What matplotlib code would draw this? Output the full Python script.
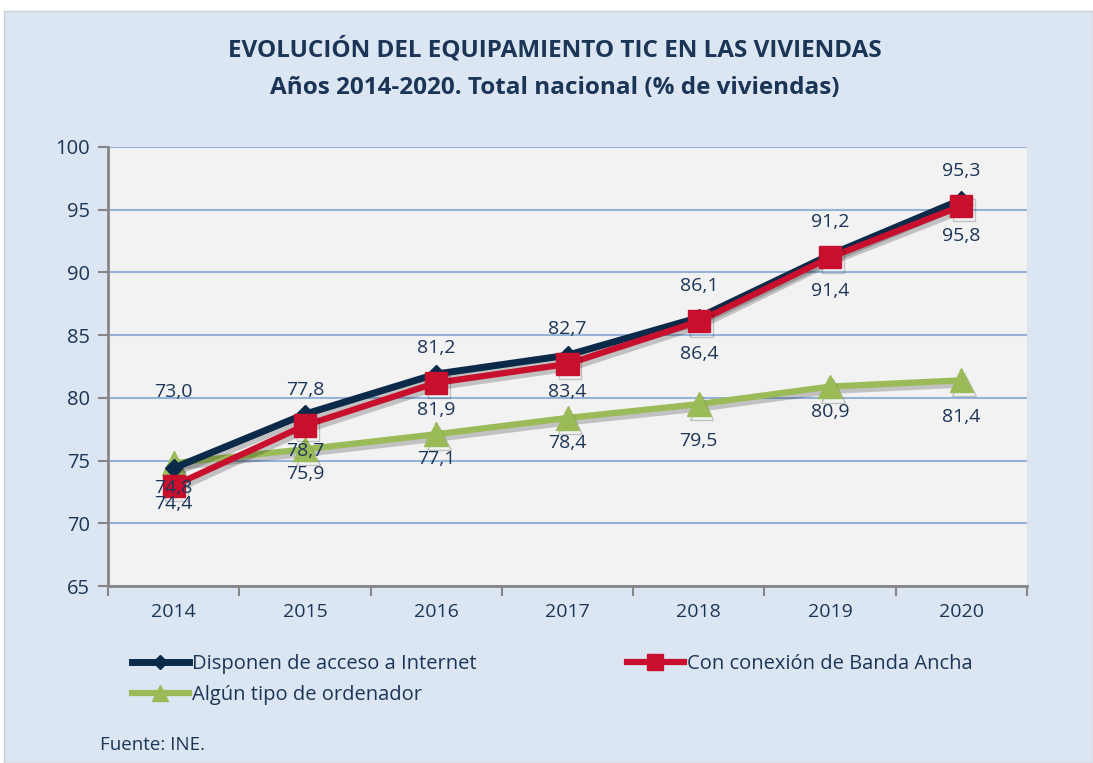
import matplotlib.pyplot as plt
import matplotlib.patheffects as pe
from matplotlib.lines import Line2D
from matplotlib.patches import Rectangle

# Data
years = ["2014", "2015", "2016", "2017", "2018", "2019", "2020"]
internet = [74.4, 78.7, 81.9, 83.4, 86.4, 91.4, 95.8]
banda_ancha = [73.0, 77.8, 81.2, 82.7, 86.1, 91.2, 95.3]
ordenador = [74.8, 75.9, 77.1, 78.4, 79.5, 80.9, 81.4]

navy = "#0B2A4A"
red = "#C8102E"
green = "#9BBB59"
txt = "#1B3557"

plt.rcParams['font.family'] = ['Open Sans', 'DejaVu Sans']

fig = plt.figure(figsize=(10.93, 7.63), dpi=100)
fig.patch.set_facecolor("white")
fig.patches.append(Rectangle((0.004, 0), 0.996, 1 - 11 / 763, transform=fig.transFigure,
                             facecolor="#DCE6F2", edgecolor="#C8CDD3", lw=1, zorder=-10))

ax = fig.add_axes([108 / 1093, 1 - 586 / 763, 919 / 1093, 439 / 763])
ax.set_facecolor("#F2F2F2")

x = list(range(len(years)))
shadow = [pe.SimpleLineShadow(offset=(2, -3), shadow_color="black", alpha=0.2), pe.Normal()]

ax.plot(x, internet, color=navy, lw=5, marker="D", ms=9, mfc=navy, mec=navy,
        zorder=3, path_effects=shadow)
ax.plot(x, banda_ancha, color=red, lw=4.5, marker="s", ms=16, mfc=red, mec=red,
        zorder=4, path_effects=shadow)
ax.plot(x, ordenador, color=green, lw=4.5, marker="^", ms=17, mfc=green, mec=green,
        zorder=2, path_effects=shadow)

def fmt(v):
    return f"{v:.1f}".replace(".", ",")

# data labels (offsets in data units)
fs = 14
for i in x:
    ax.text(i, internet[i] - 2.9, fmt(internet[i]), ha="center", va="center", fontsize=fs, color=txt, zorder=6)
    dy = 7.5 if i == 0 else 2.8
    ax.text(i, banda_ancha[i] + dy, fmt(banda_ancha[i]), ha="center", va="center", fontsize=fs, color=txt, zorder=6)
    dy = -2.9 if i in (4, 6) else -2.0
    ax.text(i, ordenador[i] + dy, fmt(ordenador[i]), ha="center", va="center", fontsize=fs, color=txt, zorder=6)

ax.set_xlim(-0.5, len(years) - 0.5)
ax.set_ylim(65, 100)
ax.set_yticks(range(65, 101, 5))
ax.set_xticks(x)
ax.set_xticklabels(years)
ax.set_xticks([i - 0.5 for i in range(len(years) + 1)], minor=True)
ax.tick_params(axis="x", which="major", length=0, pad=12, labelsize=14, labelcolor=txt)
ax.tick_params(axis="x", which="minor", length=7, width=1.5, color="#868686", direction="out")
ax.tick_params(axis="y", length=7, width=1.5, color="#868686", direction="out", pad=6,
               labelsize=14.5, labelcolor=txt)
ax.grid(axis="y", color="#95B3D7", lw=1.5)
ax.set_axisbelow(True)
for s in ["top", "right"]:
    ax.spines[s].set_visible(False)
for s in ["left", "bottom"]:
    ax.spines[s].set_color("#868686")
    ax.spines[s].set_linewidth(2)

fig.text(555 / 1093, 1 - 50 / 763, "EVOLUCIÓN DEL EQUIPAMIENTO TIC EN LAS VIVIENDAS",
         ha="center", va="center", fontsize=17.5, fontweight="bold", color=txt)
fig.text(555 / 1093, 1 - 88 / 763, "Años 2014-2020. Total nacional (% de viviendas)",
         ha="center", va="center", fontsize=17.5, fontweight="bold", color=txt)

# legend proxies (row order: Internet, Banda Ancha / Ordenador)
h1 = Line2D([], [], color=navy, lw=5, marker="D", ms=7, mfc=navy, mec=navy)
h2 = Line2D([], [], color=red, lw=4.5, marker="s", ms=11, mfc=red, mec=red)
h3 = Line2D([], [], color=green, lw=4.5, marker="^", ms=12, mfc=green, mec=green)
fig.legend([h1, h3, h2],
           ["Disponen de acceso a Internet", "Algún tipo de ordenador", "Con conexión de Banda Ancha"],
           loc="upper left", bbox_to_anchor=(114 / 1093, 1 - 636 / 763), ncol=2, frameon=False,
           fontsize=14.5, labelcolor=txt, handlelength=2.8, handletextpad=0.15, columnspacing=7.5,
           labelspacing=0.55)

fig.text(100 / 1093, 1 - 745 / 763, "Fuente: INE.", ha="left", va="center", fontsize=13.5, color=txt)

fig.savefig("out.png", dpi=100, facecolor=fig.get_facecolor())
